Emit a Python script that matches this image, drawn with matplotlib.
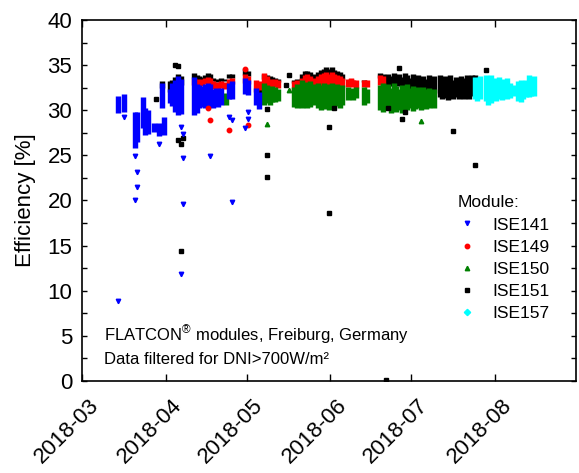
import numpy as np
import pandas as pd
import matplotlib
matplotlib.use('Agg')
import matplotlib.pyplot as plt
import matplotlib.dates as mdates
import matplotlib.transforms as mtransforms
from matplotlib.ticker import MultipleLocator
from matplotlib.lines import Line2D
from datetime import datetime

plt.rcParams['font.family'] = ['Liberation Sans', 'DejaVu Sans']
plt.rcParams['mathtext.fontset'] = 'custom'
plt.rcParams['mathtext.rm'] = 'Liberation Sans'
plt.rcParams['mathtext.it'] = 'Liberation Sans:italic'

# ---------------- data (daily range of the dense streaks + isolated points) ----------------
# ISE141 (blue)
d141 = ['2018-03-14', '2018-03-16', '2018-03-20', '2018-03-21', '2018-03-23', '2018-03-24',
        '2018-03-25', '2018-03-27', '2018-03-29', '2018-03-30', '2018-03-31',
        '2018-04-02', '2018-04-03', '2018-04-04', '2018-04-05', '2018-04-06',
        '2018-04-11', '2018-04-12', '2018-04-13', '2018-04-14', '2018-04-15', '2018-04-16',
        '2018-04-17', '2018-04-18', '2018-04-19', '2018-04-20', '2018-04-21',
        '2018-04-24', '2018-04-25', '2018-04-30', '2018-05-01', '2018-05-04', '2018-05-05']
lo141 = [29.7, 29.8, 25.8, 26.5, 28.0, 27.3, 27.4, 27.6, 27.1, 30.3, 27.3,
         30.8, 30.5, 29.8, 29.5, 29.6,
         29.5, 29.7, 30.2, 30.4, 30.3, 30.4, 30.6, 30.3, 30.5, 30.4, 30.6,
         31.2, 31.3, 31.8, 31.7, 30.6, 30.1]
hi141 = [31.6, 31.8, 29.8, 29.8, 31.5, 30.3, 30.0, 28.6, 28.6, 33.0, 29.2,
         32.3, 33.0, 33.3, 33.8, 33.5,
         33.7, 32.9, 32.8, 32.7, 32.9, 33.0, 32.9, 32.4, 32.5, 32.3, 32.5,
         33.0, 33.2, 33.6, 33.4, 32.5, 32.0]
d141_pts = ['2018-03-14', '2018-03-16', '2018-03-20', '2018-03-20', '2018-03-21', '2018-03-21',
            '2018-03-29', '2018-04-06', '2018-04-07', '2018-04-07', '2018-04-07', '2018-04-06',
            '2018-04-17', '2018-04-25', '2018-04-25', '2018-04-24', '2018-04-30', '2018-05-01',
            '2018-05-01']
v141_pts = [8.9, 29.3, 24.9, 20.0, 23.2, 21.5, 26.3, 28.1, 27.4, 24.7, 19.6, 11.9,
            24.9, 19.8, 28.9, 29.3, 28.0, 29.8, 29.0]

# ISE149 (red)
d149 = ['2018-04-11', '2018-04-12', '2018-04-13', '2018-04-14', '2018-04-15', '2018-04-16',
        '2018-04-17', '2018-04-18', '2018-04-19', '2018-04-20', '2018-04-21', '2018-04-22',
        '2018-04-24', '2018-04-25', '2018-04-30', '2018-05-01', '2018-05-04', '2018-05-05',
        '2018-05-07', '2018-05-08', '2018-05-09', '2018-05-10', '2018-05-11', '2018-05-12',
        '2018-05-18', '2018-05-19', '2018-05-20', '2018-05-21', '2018-05-22', '2018-05-23',
        '2018-05-24', '2018-05-25', '2018-05-27', '2018-05-28', '2018-05-29', '2018-05-30',
        '2018-05-31', '2018-06-01', '2018-06-02', '2018-06-03', '2018-06-04', '2018-06-05',
        '2018-06-07', '2018-06-08', '2018-06-09', '2018-06-10', '2018-06-13', '2018-06-14',
        '2018-06-19', '2018-06-20']
lo149 = [32.8, 32.9, 32.8, 32.7, 32.9, 33.0, 32.9, 32.4, 32.5, 32.3, 32.5, 32.4,
         32.8, 32.9, 33.0, 32.9, 32.0, 32.2,
         32.9, 32.7, 32.6, 32.5, 32.6, 32.5,
         32.0, 32.1, 31.9, 32.6, 32.6, 32.7, 32.6, 32.5,
         32.7, 32.6, 32.8, 32.7, 32.6, 32.8, 32.7, 32.6, 32.7, 32.6,
         32.6, 32.7, 32.6, 32.5, 32.6, 32.6, 32.8, 32.7]
hi149 = [33.6, 33.5, 33.4, 33.5, 33.6, 33.7, 33.6, 33.2, 33.1, 33.0, 33.2, 33.1,
         33.5, 33.6, 34.0, 33.8, 33.3, 33.2,
         34.1, 33.8, 33.5, 33.4, 33.5, 33.3,
         33.2, 33.3, 33.0, 33.6, 33.9, 34.0, 33.8, 33.6,
         33.8, 34.0, 34.1, 34.2, 34.0, 34.2, 34.0, 33.9, 33.8, 33.6,
         33.5, 33.6, 33.4, 33.3, 33.4, 33.3, 33.9, 33.8]
d149_pts = ['2018-04-16', '2018-04-17', '2018-04-24', '2018-05-01', '2018-04-30']
v149_pts = [30.3, 28.9, 27.8, 28.4, 34.6]

# ISE150 (green)
d150 = ['2018-04-22', '2018-04-23',
        '2018-05-07', '2018-05-08', '2018-05-09', '2018-05-10', '2018-05-11', '2018-05-12',
        '2018-05-18', '2018-05-19', '2018-05-20', '2018-05-21', '2018-05-22', '2018-05-23',
        '2018-05-24', '2018-05-25', '2018-05-27', '2018-05-28', '2018-05-29', '2018-05-30',
        '2018-05-31', '2018-06-01', '2018-06-02', '2018-06-03', '2018-06-04', '2018-06-05',
        '2018-06-07', '2018-06-08', '2018-06-09', '2018-06-10', '2018-06-13', '2018-06-14',
        '2018-06-19', '2018-06-20', '2018-06-21', '2018-06-22', '2018-06-23', '2018-06-24',
        '2018-06-25', '2018-06-26', '2018-06-27', '2018-06-28', '2018-06-29', '2018-06-30',
        '2018-07-01', '2018-07-02', '2018-07-03', '2018-07-04', '2018-07-05', '2018-07-06',
        '2018-07-07', '2018-07-08', '2018-07-09']
lo150 = [30.8, 30.6,
         30.6, 30.8, 30.6, 30.9, 30.9, 31.0,
         30.4, 30.2, 30.4, 30.3, 30.5, 30.2, 30.4, 30.6,
         30.2, 30.0, 30.3, 30.1, 30.0, 30.4, 30.2, 30.5, 30.3, 30.6,
         31.1, 31.3, 31.1, 31.4, 30.6, 30.8,
         30.0, 29.8, 30.1, 30.0, 29.7, 30.2, 29.8, 30.0, 29.7, 30.2, 30.0, 30.3, 29.9, 30.1,
         30.2, 30.0, 30.4, 30.1, 30.3, 30.5, 30.2]
hi150 = [31.9, 31.7,
         33.0, 32.8, 32.6, 32.7, 32.6, 32.4,
         32.6, 32.9, 32.5, 33.4, 33.1, 32.8, 33.2, 32.9,
         33.0, 32.8, 33.0, 32.6, 32.9, 33.0, 32.7, 32.9, 32.6, 32.8,
         32.6, 32.5, 32.4, 32.6, 32.6, 32.4,
         32.8, 33.0, 32.6, 32.9, 32.5, 33.0, 32.7, 32.4, 32.8, 32.6, 32.9, 32.5, 32.7, 32.4,
         32.6, 32.4, 32.6, 32.3, 32.5, 32.2, 32.4]
d150_pts = ['2018-05-08', '2018-07-04', '2018-05-16']
v150_pts = [28.5, 28.8, 32.2]

# ISE151 (black)
d151 = ['2018-03-30', '2018-04-02', '2018-04-03', '2018-04-04', '2018-04-05', '2018-04-06',
        '2018-04-11', '2018-04-12', '2018-04-13', '2018-04-14', '2018-04-15', '2018-04-16',
        '2018-04-17', '2018-04-18', '2018-04-19', '2018-04-20', '2018-04-21', '2018-04-22',
        '2018-04-24', '2018-04-25', '2018-04-30', '2018-05-01', '2018-05-05',
        '2018-05-07', '2018-05-08', '2018-05-09', '2018-05-10', '2018-05-11', '2018-05-12',
        '2018-05-18', '2018-05-19', '2018-05-20', '2018-05-21', '2018-05-22', '2018-05-23',
        '2018-05-24', '2018-05-25', '2018-05-27', '2018-05-28', '2018-05-29', '2018-05-30',
        '2018-05-31', '2018-06-01', '2018-06-02', '2018-06-03', '2018-06-04', '2018-06-05',
        '2018-06-08', '2018-06-13',
        '2018-06-19', '2018-06-20', '2018-06-21', '2018-06-22', '2018-06-23', '2018-06-24',
        '2018-06-25', '2018-06-26', '2018-06-27', '2018-06-28', '2018-06-29', '2018-06-30',
        '2018-07-01', '2018-07-02', '2018-07-03', '2018-07-04', '2018-07-05', '2018-07-06',
        '2018-07-07', '2018-07-08', '2018-07-09', '2018-07-11', '2018-07-12', '2018-07-13',
        '2018-07-14', '2018-07-15', '2018-07-16', '2018-07-17', '2018-07-18', '2018-07-19',
        '2018-07-20', '2018-07-21', '2018-07-22', '2018-07-23', '2018-07-24']
lo151 = [32.5, 32.0, 32.6, 32.8, 33.0, 32.8,
         33.6, 33.4, 33.3, 33.2, 33.4, 33.6, 33.5, 33.2, 33.2, 33.1, 33.2, 33.2,
         33.6, 33.6, 33.9, 33.8, 31.7,
         33.5, 33.3, 33.2, 33.2, 33.0, 33.1,
         33.0, 33.1, 33.0, 33.4, 33.6, 33.8, 33.7, 33.5,
         33.6, 33.8, 33.9, 34.0, 33.9, 34.0, 33.8, 33.7, 33.6, 33.4,
         33.2, 33.1,
         33.6, 33.5, 33.0, 32.8, 32.7, 32.6, 32.9, 32.7, 32.5, 32.8, 32.6, 32.4, 32.7, 32.5,
         31.8, 31.7, 32.0, 31.8, 31.7, 32.1, 31.9,
         31.5, 31.2, 31.4, 31.1, 31.6, 31.3, 31.5, 31.2, 31.6, 31.3, 31.5, 31.2, 31.6, 32.2]
hi151 = [33.2, 33.2, 33.4, 33.7, 34.0, 33.8,
         34.1, 33.9, 33.8, 33.7, 33.9, 34.1, 34.0, 33.6, 33.5, 33.4, 33.6, 33.5,
         34.0, 34.0, 34.6, 34.4, 32.3,
         34.0, 33.9, 33.8, 33.7, 33.6, 33.5,
         33.4, 33.5, 33.3, 34.0, 34.3, 34.4, 34.2, 34.0,
         34.2, 34.5, 34.6, 34.8, 34.6, 34.8, 34.5, 34.3, 34.2, 34.0,
         33.5, 33.4,
         34.1, 34.0, 33.8, 34.0, 33.8, 34.1, 33.9, 34.0, 33.7, 34.1, 33.9, 33.6, 34.0, 33.8,
         33.9, 33.6, 33.8, 33.5, 33.9, 33.6, 33.8,
         33.9, 33.6, 33.8, 33.5, 33.9, 33.4, 33.7, 33.5, 33.8, 33.6, 33.9, 33.7, 33.9, 33.9]
d151_pts = ['2018-03-28', '2018-04-04', '2018-04-05', '2018-04-05', '2018-04-06', '2018-04-07',
            '2018-04-06', '2018-05-08', '2018-05-08', '2018-05-08', '2018-05-15', '2018-05-16',
            '2018-05-31', '2018-05-31', '2018-06-02', '2018-06-21', '2018-06-22', '2018-06-26',
            '2018-06-27', '2018-06-28', '2018-07-16', '2018-07-24', '2018-07-28']
v151_pts = [31.2, 35.0, 34.9, 26.7, 26.3, 26.9, 14.4, 30.1, 25.0, 22.6, 32.8, 33.9,
            28.1, 18.6, 30.3, 0.1, 30.3, 34.7, 29.0, 29.8, 27.7, 23.9, 34.5]

# ISE157 (cyan)
d157 = ['2018-07-24', '2018-07-25', '2018-07-26', '2018-07-28', '2018-07-29', '2018-07-30',
        '2018-07-31', '2018-08-01', '2018-08-02', '2018-08-03', '2018-08-04', '2018-08-05',
        '2018-08-06', '2018-08-07', '2018-08-09', '2018-08-10', '2018-08-11', '2018-08-12',
        '2018-08-13', '2018-08-14', '2018-08-15']
lo157 = [31.2, 31.0, 31.3, 31.0, 30.6, 30.8, 31.2, 31.0, 31.3, 31.1, 31.6, 31.2,
         31.4, 31.6, 31.0, 30.9, 31.3, 31.5, 31.5, 31.6, 31.6]
hi157 = [33.7, 33.5, 33.8, 33.9, 33.7, 33.9, 33.6, 33.4, 33.7, 33.5, 33.3, 33.6,
         33.0, 32.8, 33.2, 33.4, 33.0, 33.3, 33.9, 33.5, 33.8]

modules = ['ISE141', 'ISE149', 'ISE150', 'ISE151', 'ISE157']
colors = {'ISE141': '#0000ff', 'ISE149': '#ff0000', 'ISE150': '#008000',
          'ISE151': '#000000', 'ISE157': '#00ffff'}
markers = {'ISE141': 'v', 'ISE149': 'o', 'ISE150': '^', 'ISE151': 's', 'ISE157': 'D'}

series = {
    'ISE141': (d141, lo141, hi141, d141_pts, v141_pts),
    'ISE149': (d149, lo149, hi149, d149_pts, v149_pts),
    'ISE150': (d150, lo150, hi150, d150_pts, v150_pts),
    'ISE151': (d151, lo151, hi151, d151_pts, v151_pts),
    'ISE157': (d157, lo157, hi157, [], []),
}
draw_order = ['ISE151', 'ISE149', 'ISE150', 'ISE141', 'ISE157']

# ---------------- figure ----------------
W, H = 579, 473
fig = plt.figure(figsize=(W / 100, H / 100), dpi=100)
ax = fig.add_axes([82 / W, 1 - 381 / H, (576 - 82) / W, (381 - 20) / H])

noon = pd.Timedelta(hours=12)


def to_num(dates):
    return mdates.date2num((pd.to_datetime(dates) + noon).to_pydatetime())


for m in draw_order:
    d, lo, hi, dp, vp = series[m]
    c = colors[m]
    ax.vlines(to_num(d), lo, hi, colors=c, linewidth=3.9, zorder=2)
    if len(dp):
        ax.plot(to_num(dp), vp, ls='none', marker=markers[m], ms=3.2, color=c, mec=c, zorder=3)

ax.xaxis_date()
ax.set_xlim(mdates.date2num(datetime(2018, 3, 1)), mdates.date2num(datetime(2018, 8, 31)))
ax.set_ylim(0, 40)
ax.xaxis.set_major_locator(mdates.MonthLocator())
ax.xaxis.set_major_formatter(mdates.DateFormatter('%Y-%m'))
ax.yaxis.set_major_locator(MultipleLocator(5))
ax.yaxis.set_minor_locator(MultipleLocator(2.5))

ax.tick_params(axis='x', which='both', direction='in', top=True, bottom=True,
               length=5, width=1, labelsize=16, pad=10)
ax.tick_params(axis='y', which='both', direction='in', left=True, right=True,
               length=3.5, width=1, labelsize=16, pad=7)
shift = mtransforms.ScaledTranslation(0.06, 0, fig.dpi_scale_trans)
for lbl in ax.get_xticklabels():
    lbl.set_rotation(45)
    lbl.set_ha('right')
    lbl.set_va('top')
    lbl.set_rotation_mode('anchor')
    lbl.set_transform(lbl.get_transform() + shift)
for s in ax.spines.values():
    s.set_linewidth(1.2)

ax.set_ylabel('Efficiency [%]', fontsize=16, labelpad=8)

ax.text(0.0445, 0.1116, r'FLATCON$^{\circledR}$ modules, Freiburg, Germany',
        transform=ax.transAxes, fontsize=12, va='baseline', ha='left')
ax.text(0.0445, 0.047, 'Data filtered for DNI>700W/m²',
        transform=ax.transAxes, fontsize=12, va='baseline', ha='left')

handles = [Line2D([], [], ls='none', marker=markers[m], color=colors[m], mec=colors[m], ms=3.2)
           for m in modules]
leg = ax.legend(handles, modules, title='Module:', loc='upper left',
                bbox_to_anchor=(0.761, 0.514), frameon=False, fontsize=12.5,
                title_fontsize=12.5, handlelength=1.0, handletextpad=1.0,
                labelspacing=0.4, borderpad=0, borderaxespad=0, alignment='left')

fig.savefig('out.png', dpi=100)
